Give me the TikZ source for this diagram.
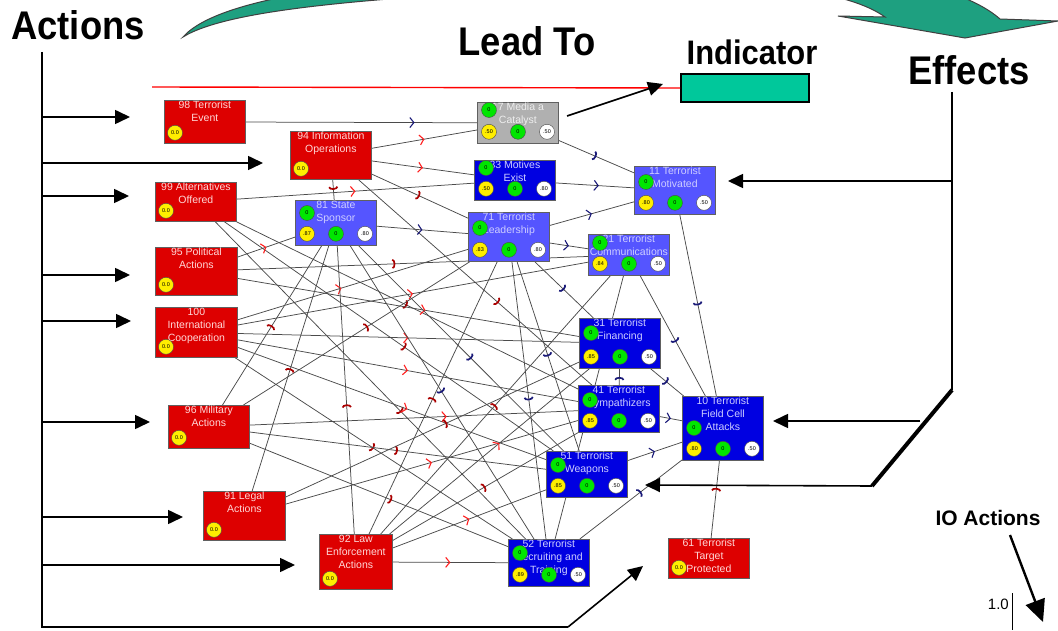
\documentclass[tikz,border=0pt]{standalone}
\usepackage{fontspec}
\setmainfont{Liberation Sans}
\newfontfamily\headfont[FakeStretch=0.91]{Liberation Sans}
\usetikzlibrary{arrows.meta,decorations.markings,calc}
\pgfdeclarelayer{background}
\pgfsetlayers{background,main}

\definecolor{actred}{RGB}{221,0,0}
\definecolor{nodeblue}{RGB}{0,0,225}
\definecolor{nodelight}{RGB}{85,85,255}
\definecolor{nodegray}{RGB}{176,176,176}
\definecolor{acttext}{RGB}{255,215,215}
\definecolor{bluetext}{RGB}{205,205,255}
\definecolor{graytext}{RGB}{238,238,238}
\definecolor{chevred}{RGB}{255,30,30}
\definecolor{arcred}{RGB}{170,0,0}
\definecolor{navy}{RGB}{25,25,120}
\definecolor{indgreen}{RGB}{0,200,155}
\definecolor{swoosh}{RGB}{30,160,128}
\definecolor{edgegray}{RGB}{75,75,75}
\definecolor{ballgreen}{RGB}{0,230,0}
\definecolor{ballyellow}{RGB}{255,238,0}

% action (red) node: name, left, top, width, height, text
\newcommand\actnode[6]{%
  \node[netbox, fill=actred, minimum width=#4pt, minimum height=#5pt] (#1) at (#2,#3) {};
  \node[boxtext, text=acttext] (#1-t) at (#1.north) {#6};
  \node[yball] (#1-y) at ($(#1.south west)+(11,-11)$) {0.0};
}
% state node: name, left, top, height, style, text, yellow value, white value, top ball offset
\newcommand\netnode[9]{%
  \node[netbox, #5, minimum width=81pt, minimum height=#4pt] (#1) at (#2,#3) {};
  \node[boxtext, #5 text] (#1-t) at (#1.north) {#6};
  \node[gball] (#1-g) at ($(#1.north west)+(12,#9)$) {0};
  \node[yball] (#1-y) at ($(#1.south west)+(12,-12)$) {#7};
  \node[gball] (#1-m) at ($(#1.south west)+(41,-12)$) {0};
  \node[wball] (#1-w) at ($(#1.south west)+(70,-12)$) {#8};
}

\begin{document}
\begin{tikzpicture}[x=1pt,y=-1pt,
  netbox/.style={draw=gray!75!black, line width=0.8pt, rectangle, inner sep=0pt, anchor=north west},
  boxtext/.style={anchor=north, inner sep=1pt, align=center, font=\fontsize{10.5}{13}\selectfont},
  darkbox/.style={fill=nodeblue},
  darkbox text/.style={text=bluetext},
  lightbox/.style={fill=nodelight},
  lightbox text/.style={text=bluetext},
  graybox/.style={fill=nodegray},
  graybox text/.style={text=graytext},
  ball/.style={circle, draw=gray!60!black, line width=0.4pt, minimum size=15pt, inner sep=0pt, font=\fontsize{5.5}{6}\selectfont},
  gball/.style={ball, fill=ballgreen},
  yball/.style={ball, fill=ballyellow},
  wball/.style={ball, fill=white},
  link/.style={draw=edgegray, line width=0.75pt},
  pr/.style={postaction={decorate, decoration={markings, mark=at position #1 with {\arrow[color=chevred]{Straight Barb[length=4pt, width=10pt, line width=1.1pt]}}}}},
  pr/.default=0.5,
  nr/.style={postaction={decorate, decoration={markings, mark=at position #1 with {\arrow[color=arcred]{Arc Barb[length=3pt, width=10pt, line width=1.7pt]}}}}},
  nr/.default=0.5,
  pb/.style={postaction={decorate, decoration={markings, mark=at position #1 with {\arrow[color=navy]{Straight Barb[length=4pt, width=10pt, line width=1.1pt]}}}}},
  pb/.default=0.5,
  nb/.style={postaction={decorate, decoration={markings, mark=at position #1 with {\arrow[color=navy]{Arc Barb[length=3pt, width=10pt, line width=1.7pt]}}}}},
  nb/.default=0.5,
  blackarrow/.style={draw=black, line width=1.6pt, -{Triangle[length=15pt, width=14pt]}},
  headtext/.style={font=\headfont\bfseries\fontsize{40}{40}\selectfont, inner sep=0pt},
]
\useasboundingbox (0,0) rectangle (1058,631);

% ---- swoosh from Actions to Effects ----
\begin{scope}
  \clip (0,0) rectangle (1058,631);
  \filldraw[fill=swoosh, draw=black!75, line width=1pt]
    (183,37) .. controls (230,8) and (380,-2) .. (560,-12)
    .. controls (760,-25) and (850,-8) .. (885,17)
    -- (838,16) -- (965,38) -- (1058,21) -- (1000,19)
    .. controls (950,-25) and (800,-45) .. (560,-30)
    .. controls (380,-22) and (220,-5) .. (183,37) -- cycle;
\end{scope}

% ---- headings ----
\node[headtext] (actions) at (78,25) {Actions};
\node[headtext] (leadto) at (527,41) {Lead To};
\node[headtext, font=\headfont\bfseries\fontsize{34}{34}\selectfont] (indicator) at (752,52) {Indicator};
\node[headtext] (effects) at (969,70) {Effects};
\node[font=\bfseries\fontsize{21}{21}\selectfont, inner sep=0pt] (ioact) at (988,518) {IO Actions};
\node[font=\fontsize{15}{15}\selectfont, inner sep=0pt, anchor=east] (one) at (1009,604) {1.0};

% indicator box and its red line
\node[draw=black, line width=2pt, fill=indgreen, minimum width=128pt, minimum height=28pt, inner sep=0pt, anchor=north west] (indbox) at (680,73) {};
\coordinate (redstart) at (152,87);
\draw[red, line width=1.4pt] (redstart) -- (indbox.west);

% ---- action nodes ----
\actnode{te}{164}{100}{81}{43}{98 Terrorist\\Event}
\actnode{io}{290}{131}{81}{48}{94 Information\\Operations}
\actnode{ao}{155}{182}{81}{39}{99 Alternatives\\Offered}
\actnode{pa}{155}{247}{82}{48}{95 Political\\Actions}
\actnode{ic}{155}{307}{82}{50}{100\\International\\Cooperation}
\actnode{ma}{168}{405}{81}{43}{96 Military\\Actions}
\actnode{la}{203}{491}{82}{49}{91 Legal\\Actions}
\actnode{le}{319}{534}{73}{55}{92 Law\\Enforcement\\Actions}
\actnode{tp}{668}{538}{81}{40}{61 Terrorist\\Target\\Protected}

% ---- state nodes ----
\netnode{mc}{477}{102}{41}{graybox}{17 Media a\\Catalyst}{.50}{.50}{8}
\netnode{me}{474}{160}{40}{darkbox}{33 Motives\\Exist}{.50}{.80}{8}
\netnode{tm}{634}{166}{48}{lightbox}{11 Terrorist\\Motivated}{.80}{.50}{16}
\netnode{ss}{295}{200}{45}{lightbox}{81 State\\Sponsor}{.87}{.80}{13}
\netnode{tl}{468}{212}{49}{lightbox}{71 Terrorist\\Leadership}{.83}{.80}{16}
\netnode{tc}{588}{234}{41}{lightbox}{21 Terrorist\\Communications}{.84}{.50}{9}
\netnode{tf}{579}{318}{50}{darkbox}{31 Terrorist\\Financing}{.85}{.50}{15}
\netnode{ts}{578}{385}{47}{darkbox}{41 Terrorist\\Sympathizers}{.85}{.50}{15}
\netnode{fc}{682}{396}{64}{darkbox}{10 Terrorist\\Field Cell\\Attacks}{.80}{.50}{32}
\netnode{tw}{546}{451}{46}{darkbox}{51 Terrorist\\Weapons}{.85}{.50}{14}
\netnode{tr}{508}{539}{47}{darkbox}{52 Terrorist\\Recruiting and\\Training}{.89}{.50}{14}

% ---- influence links, kept behind the boxes ----
\begin{pgfonlayer}{background}
  \fill[white] (0,0) rectangle (1058,631);
  \draw[link, pb=.73] (te) -- (mc);
  \draw[link, pr] (io) -- (mc);
  \draw[link, pr] (io) -- (me);
  \draw[link, nr] (io) -- (ss);
  \draw[link, nr] (io) -- (tl);
  \draw[link, nr=.6] (io) -- (ts);
  \draw[link, pr] (ao) -- (me);
  \draw[link, nr=.55] (ao) -- (tw);
  \draw[link, nr] (ao) -- (ts);
  \draw[link, nr=.6] (ao) -- (tr);
  \draw[link, pr] (pa) -- (ss);
  \draw[link, nr=.45] (pa) -- (tc);
  \draw[link, pr=.55] (pa) -- (tf);
  \draw[link, pr=.45] (ic) -- (tl);
  \draw[link, pr] (ic) -- (tc);
  \draw[link, pr] (ic) -- (tf);
  \draw[link, pr] (ic) -- (ts);
  \draw[link, pr=.55] (ic) -- (tw);
  \draw[link, nr] (ic) -- (tr);
  \draw[link, nr] (ma) -- (ss);
  \draw[link, nr=.55] (ma) -- (tl);
  \draw[link, pr=.6] (ma) -- (ts);
  \draw[link, nr] (ma) -- (tw);
  \draw[link, nr=.55] (ma) -- (tr);
  \draw[link, nr] (la) -- (ss);
  \draw[link, nr=.55] (la) -- (tf);
  \draw[link, pr] (la) -- (ts);
  \draw[link, nr] (le) -- (tl);
  \draw[link, nr=.45] (le) -- (ss);
  \draw[link, nr] (le) -- (tc);
  \draw[link, pr=.55] (le) -- (tf);
  \draw[link, nr] (le) -- (ts);
  \draw[link, pr] (le) -- (tw);
  \draw[link, pr] (le) -- (tr);
  \draw[link, nr=.65] (tp) -- (fc);
  \draw[link, nb] (mc) -- (tm);
  \draw[link, pb=.55] (me) -- (tm);
  \draw[link, pb] (ss) -- (tl);
  \draw[link, nb=.55] (ss) -- (tw);
  \draw[link, nb] (ss) -- (tr);
  \draw[link, pb] (tl) -- (tm);
  \draw[link, pb] (tl) -- (tc);
  \draw[link, nb] (tl) -- (tw);
  \draw[link, nb] (tl) -- (tr);
  \draw[link, nb] (tl) -- (tf);
  \draw[link, nb=.55] (tc) -- (fc);
  \draw[link, nb] (tc) -- (tr);
  \draw[link, nb] (tm) -- (fc);
  \draw[link, nb] (tf) -- (fc);
  \draw[link, nb] (ts) -- (tf);
  \draw[link, pb] (ts) -- (fc);
  \draw[link, pb] (tw) -- (fc);
  \draw[link, nb=.6] (tr) -- (fc);
\end{pgfonlayer}

% ---- actions bracket on the left ----
\coordinate (ltop) at (42,52);
\coordinate (lbot) at (42,627);
\coordinate (lcorner) at (568,627);
\coordinate (ltip) at (643,566);
\draw[black, line width=1.2pt] (ltop) -- (lbot) -- (lcorner);
\draw[blackarrow] (lcorner) -- (ltip);
\foreach \yy/\xx [count=\i] in {117/130, 163/263, 196/129, 275/130, 321/131, 422/150, 517/183, 565/295} {
  \coordinate (ls\i) at (42,\yy);
  \coordinate (le\i) at (\xx,\yy);
  \draw[blackarrow] (ls\i) -- (le\i);
}

% ---- effects bracket on the right ----
\coordinate (rtop) at (952,92);
\coordinate (rbend) at (952,390);
\coordinate (rfoot) at (872,486);
\coordinate (rmid) at (920,421);
\coordinate (tmtip) at (728,181);
\coordinate (fctip) at (773,421);
\coordinate (twtip) at (645,485);
\coordinate (rtm) at (952,181);
\draw[black, line width=1.2pt] (rtop) -- (rbend);
\draw[black, line width=4pt] (rbend) -- (rfoot);
\draw[blackarrow] (rtm) -- (tmtip);
\draw[blackarrow] (rmid) -- (fctip);
\draw[blackarrow] (rfoot) -- (twtip);

% ---- indicator pointer ----
\coordinate (indfrom) at (567,116);
\coordinate (indto) at (663,84);
\draw[blackarrow] (indfrom) -- (indto);

% ---- IO actions pointer and scale mark ----
\coordinate (iofrom) at (1010,535);
\coordinate (ioto) at (1043,622);
\draw[black, line width=2.4pt, -{Triangle[length=22pt, width=20pt]}] (iofrom) -- (ioto);
\coordinate (scaletop) at (1012,593);
\coordinate (scalebot) at (1012,630);
\draw[black, line width=0.8pt] (scaletop) -- (scalebot);
\end{tikzpicture}
\end{document}
